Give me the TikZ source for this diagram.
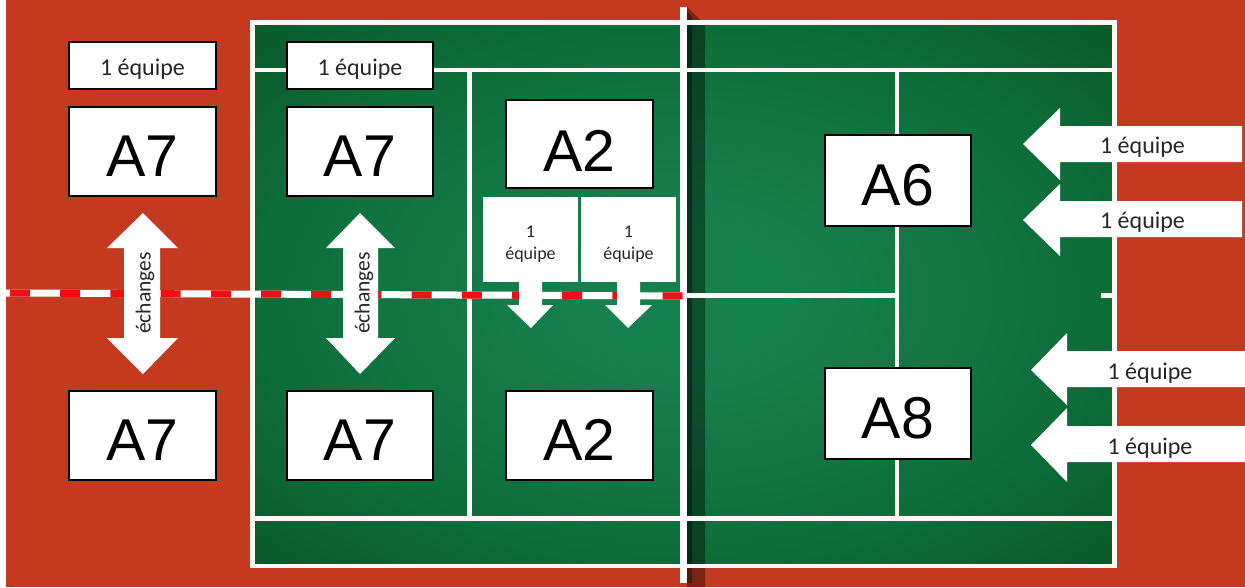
\documentclass[tikz,border=0pt]{standalone}
\usepackage{fontspec}
\setmainfont{Carlito}
\newfontfamily\arialf{Liberation Sans}
\definecolor{clay}{HTML}{C43A20}
\definecolor{greenin}{HTML}{17804F}
\definecolor{greenmid}{HTML}{0D6C38}
\definecolor{greenout}{HTML}{0A5A2A}
\definecolor{dashred}{HTML}{F00F14}
\pgfdeclareradialshading{courtshade}{\pgfpoint{0bp}{0bp}}{color(0bp)=(greenin); color(6bp)=(greenin); color(25bp)=(greenmid); color(35bp)=(greenout); color(50bp)=(greenout)}
\tikzset{
  px/.style={x=1pt,y=-1pt},
  courtline/.style={draw=white!96!clay,line width=4.5pt},
  bigbox/.style={draw=black,line width=2.5pt,fill=white,inner sep=0pt,outer sep=0pt,text height=50pt,text depth=0pt,font=\arialf\fontsize{59}{59}\selectfont},
  smallbox/.style={draw=black,line width=2.5pt,fill=white,inner sep=0pt,outer sep=0pt,text=black!85,text height=19pt,text depth=0pt,font=\fontsize{24}{24}\selectfont},
  callout/.style={fill=white,inner sep=0pt,outer sep=0pt,align=center,text=black!85,font=\fontsize{18}{22}\selectfont},
  whitearrow/.style={fill=white},
  lab/.style={text=black!85,font=\fontsize{24}{24}\selectfont,inner sep=0pt},
  vlab/.style={text=black!85,font=\fontsize{21.5}{21.5}\selectfont,inner sep=0pt,rotate=90}
}
\newcommand{\bx}[7]{\node[#1,minimum width=#4pt,minimum height=#5pt,anchor=north west] (#6) at (#2,#3) {#7};}
\begin{document}
\begin{tikzpicture}[px]
\useasboundingbox (0,0) rectangle (1245,587);
\fill[white] (0,0) rectangle (1245,587);
\fill[clay] (6,0) rectangle (1245,587);
% court
\shade[shading=courtshade] (252.5,22.5) rectangle (1114.5,566);
% shadow of net
\fill[black,opacity=.38] (687,7) -- (705,25) -- (705,587) -- (687,587) -- cycle;
\fill[black,opacity=.35] (687,12) -- (692,17) -- (692,583) -- (687,583) -- cycle;
\foreach \a/\b/\c/\d in {252.5/22.5/1114.5/22.5,252.5/566/1114.5/566,252.5/20.25/252.5/568.25,1114.5/20.25/1114.5/568.25,
  252.5/70/1114.5/70,252.5/518.5/1114.5/518.5,469.5/70/469.5/518.5,897/70/897/518.5,683/295.5/897/295.5,1101/295.5/1114.5/295.5}
  \draw[courtline] (\a,\b) -- (\c,\d);
\draw[white,line width=7pt] (683,7) -- (683,583);
% tape
\coordinate (tapeA) at (6,293);
\coordinate (tapeB) at (684,296);
\draw[white,line width=7pt] (tapeA) -- (tapeB);
\draw[dashred,line width=7pt,dash pattern=on 20pt off 30.2pt,dash phase=46.2pt] (tapeA) -- (tapeB);
% boxes
\bx{smallbox}{69}{42}{147}{47}{s1}{1 équipe}
\bx{smallbox}{287}{42}{146}{47}{s2}{1 équipe}
\bx{bigbox}{69}{107}{147}{89}{a1}{A7}
\bx{bigbox}{287}{107}{146}{89}{a2}{A7}
\bx{bigbox}{69}{391}{147}{89}{a3}{A7}
\bx{bigbox}{287}{391}{146}{89}{a4}{A7}
\bx{bigbox,text height=54pt}{506}{100}{147}{88}{a5}{A2}
\bx{bigbox}{506}{391}{147}{89}{a6}{A2}
\bx{bigbox}{825}{135}{146}{91}{a7}{A6}
\bx{bigbox}{825}{368}{146}{91}{a8}{A8}
% double arrows
\fill[whitearrow] (143,213) -- (178,248) -- (160,248) -- (160,338) -- (178,338) -- (143,374) -- (107,338) -- (124,338) -- (124,248) -- (107,248) -- cycle;
\fill[whitearrow] (360,213) -- (395,248) -- (378,248) -- (378,338) -- (395,338) -- (360,374) -- (326,338) -- (343,338) -- (343,248) -- (326,248) -- cycle;
\node[vlab] (e1) at (145,293) {échanges};
\node[vlab] (e2) at (364,293) {échanges};
% callouts
\fill[whitearrow] (519,281) -- (542,281) -- (542,305) -- (553,305) -- (531,328) -- (507,305) -- (519,305) -- cycle;
\fill[whitearrow] (617,281) -- (640,281) -- (640,305) -- (652,305) -- (628,328) -- (605,305) -- (617,305) -- cycle;
\bx{callout}{483}{197}{95}{85}{c1}{\rule{0pt}{21pt}1\\équipe}
\bx{callout}{581}{197}{95}{85}{c2}{\rule{0pt}{21pt}1\\équipe}
% right arrows
\fill[whitearrow] (1023,144) -- (1060,108) -- (1060,126) -- (1242,126) -- (1242,162) -- (1060,162) -- (1060,180) -- cycle;
\fill[whitearrow] (1023,220) -- (1060,184) -- (1060,201) -- (1242,201) -- (1242,237) -- (1060,237) -- (1060,256) -- cycle;
\fill[whitearrow] (1031,370) -- (1067,333) -- (1067,351) -- (1245,351) -- (1245,387) -- (1067,387) -- (1067,405) -- cycle;
\fill[whitearrow] (1031,445) -- (1067,408) -- (1067,426) -- (1245,426) -- (1245,462) -- (1067,462) -- (1067,482) -- cycle;
\node[lab] (r1) at (1142.5,147.5) {1 équipe};
\node[lab] (r2) at (1142.5,222) {1 équipe};
\node[lab] (r3) at (1150,373) {1 équipe};
\node[lab] (r4) at (1150,448) {1 équipe};
\end{tikzpicture}
\end{document}
